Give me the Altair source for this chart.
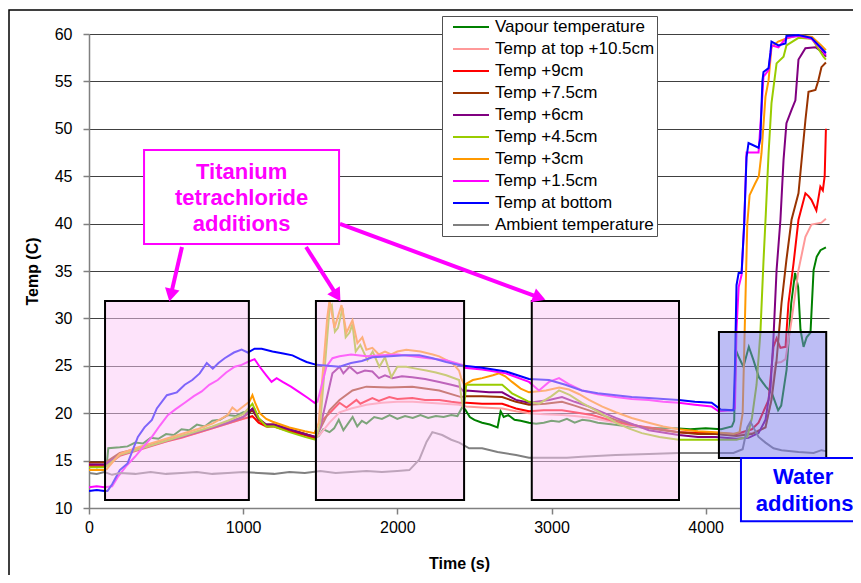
import math
import altair as alt
import pandas as pd

# ---------------- data ----------------
x_ticks = [0, 1000, 2000, 3000, 4000]
y_ticks = [10, 15, 20, 25, 30, 35, 40, 45, 50, 55, 60]

names = ["Vapour temperature", "Temp at top +10.5cm", "Temp +9cm", "Temp +7.5cm",
         "Temp +6cm", "Temp +4.5cm", "Temp  +3cm", "Temp +1.5cm",
         "Temp at bottom", "Ambient temperature"]
colors = ["#008000", "#FF9999", "#FF0000", "#993300", "#800080",
          "#99CC00", "#FF9900", "#FF00FF", "#0000FF", "#808080"]

vapour = [(0,14.5),(50,14.3),(100,14.4),(115,14.5),(125,16.3),(200,16.4),(250,16.5),(300,16.9),
          (350,16.8),(400,17.4),(450,17.3),(500,17.8),(550,17.7),(600,18.3),(650,18.2),(700,18.8),
          (750,18.6),(800,19.2),(850,19.3),(900,19.8),(950,19.7),(1000,20.1),(1040,20.2),(1070,20.5),
          (1100,19.4),(1130,19.0),(1160,18.6),(1200,18.7),(1300,18.2),(1400,17.8),(1470,17.4),
          (1490,17.6),(1520,18.3),(1560,18.0),(1590,18.4),(1620,19.3),(1650,18.2),(1680,18.9),
          (1710,19.6),(1740,18.6),(1770,19.2),(1800,18.9),(1850,19.6),(1900,19.4),(1950,19.8),
          (2000,19.4),(2050,19.7),(2100,19.5),(2150,19.8),(2200,19.5),(2250,19.7),(2300,19.6),
          (2350,19.8),(2390,19.7),(2420,20.6),(2440,20.4),(2470,19.6),(2500,19.3),(2550,19.0),
          (2600,18.8),(2650,18.5),(2670,20.2),(2690,19.6),(2720,19.8),(2760,19.3),(2800,19.2),
          (2854,19.0),(2900,18.9),(2950,19.0),(3000,19.2),(3050,19.1),(3100,19.4),(3150,19.0),
          (3200,19.3),(3250,19.2),(3300,19.0),(3400,18.8),(3500,18.6),(3600,18.5),(3700,18.4),
          (3800,18.4),(3900,18.3),(4000,18.4),(4100,18.3),(4170,18.6),(4185,19.2),(4195,26.7),
          (4215,25.9),(4245,24.9),(4280,27.0),(4310,25.6),(4345,23.8),(4390,22.8),(4430,22.1),
          (4470,20.3),(4490,20.8),(4525,24.6),(4555,31.6),(4580,34.8),(4600,33.3),(4615,28.8),
          (4635,27.0),(4655,28.0),(4680,28.5),(4700,35.1),(4720,36.5),(4745,37.2),(4780,37.5)]

top_10_5 = [(0,14.6),(100,14.5),(115,14.6),(200,15.6),(300,16.1),(400,16.6),(500,17.0),(600,17.5),
            (700,17.9),(800,18.4),(900,18.9),(1000,19.4),(1060,19.6),(1100,19.2),(1150,18.7),
            (1200,18.7),(1300,18.2),(1400,17.8),(1470,17.4),(1500,17.8),(1560,19.0),(1625,20.1),
            (1700,20.5),(1800,20.9),(1900,21.1),(2000,21.2),(2100,21.2),(2200,21.1),(2300,21.0),
            (2400,20.9),(2447,20.7),(2550,20.6),(2680,20.5),(2770,20.2),(2854,20.0),(2950,19.9),
            (3068,19.8),(3150,19.7),(3262,19.5),(3417,19.0),(3500,18.7),(3631,18.4),(3825,18.0),
            (3950,17.9),(4065,17.8),(4200,17.7),(4300,17.9),(4388,18.5),(4420,21.0),(4453,25.3),
            (4490,25.4),(4518,25.7),(4557,29.8),(4602,35.1),(4647,38.6),(4686,39.9),(4751,40.1),
            (4780,40.5)]

temp_9 = [(0,14.4),(100,14.4),(115,14.5),(200,15.5),(300,16.0),(400,16.5),(500,17.0),(600,17.4),
          (700,17.9),(800,18.4),(900,18.9),(1000,19.4),(1060,19.7),(1100,19.0),(1150,18.6),
          (1200,18.6),(1300,18.1),(1400,17.7),(1470,17.3),(1515,19.3),(1560,20.0),(1625,21.1),
          (1670,20.6),(1735,21.4),(1760,21.0),(1838,21.6),(1880,21.3),(1948,21.7),(2000,21.5),
          (2097,21.6),(2180,21.4),(2272,21.4),(2350,21.2),(2401,21.1),(2447,21.1),(2550,21.0),
          (2680,21.0),(2770,20.5),(2854,20.2),(2950,20.3),(3068,20.3),(3150,20.1),(3262,19.8),
          (3417,19.1),(3500,18.8),(3631,18.5),(3825,18.0),(3950,17.9),(4065,17.9),(4200,17.8),
          (4300,18.3),(4343,19.0),(4408,21.4),(4440,27.0),(4460,27.9),(4485,26.9),(4518,27.0),
          (4537,31.6),(4570,35.8),(4602,40.4),(4647,43.2),(4667,42.9),(4686,42.5),(4718,41.4),
          (4744,43.9),(4760,43.5),(4772,45.0),(4780,50.0)]

temp_7_5 = [(0,14.8),(100,14.8),(115,14.9),(200,15.8),(300,16.2),(400,16.7),(500,17.1),(600,17.6),
            (700,18.0),(800,18.5),(900,19.0),(1000,19.6),(1060,20.3),(1100,19.3),(1150,18.8),
            (1200,18.8),(1300,18.3),(1400,17.8),(1470,17.5),(1495,18.2),(1560,20.3),(1625,21.4),
            (1709,22.4),(1799,22.8),(1948,22.7),(2097,22.8),(2272,22.4),(2414,21.7),(2447,21.8),
            (2550,21.8),(2680,21.7),(2770,21.2),(2854,20.9),(2960,21.0),(3068,21.2),(3150,20.8),
            (3243,20.3),(3417,19.3),(3500,18.9),(3631,18.4),(3825,18.0),(3950,17.8),(4065,17.8),
            (4200,17.6),(4300,17.8),(4388,18.5),(4427,21.4),(4460,25.6),(4492,31.6),(4524,36.2),
            (4557,40.4),(4602,43.2),(4647,50.9),(4667,53.9),(4712,54.1),(4731,55.1),(4751,56.5),
            (4780,57.0)]

temp_6 = [(0,14.6),(100,14.6),(115,14.7),(200,15.6),(300,16.1),(400,16.6),(500,17.1),(600,17.5),
          (700,18.0),(800,18.5),(900,19.0),(1000,19.6),(1060,20.5),(1100,19.4),(1150,18.8),
          (1200,18.8),(1300,18.3),(1400,17.8),(1470,17.5),(1500,18.5),(1540,21.4),(1579,24.2),
          (1625,24.9),(1650,24.2),(1690,24.9),(1740,24.2),(1790,24.5),(1838,24.4),(1880,23.7),
          (1920,24.0),(1968,23.7),(2030,23.9),(2097,23.8),(2180,23.6),(2272,23.3),(2350,23.0),
          (2401,22.8),(2430,22.3),(2447,22.4),(2595,22.2),(2680,22.2),(2770,21.4),(2854,21.1),
          (2984,21.4),(3068,21.7),(3150,21.2),(3243,20.7),(3417,19.5),(3500,19.0),(3631,18.2),
          (3825,17.7),(3950,17.5),(4065,17.5),(4200,17.3),(4278,17.4),(4343,17.9),(4388,19.3),
          (4421,22.8),(4440,28.0),(4460,35.1),(4485,40.4),(4505,46.7),(4524,50.6),(4557,52.0),
          (4582,53.0),(4602,57.3),(4647,58.5),(4712,58.6),(4764,58.0),(4780,57.6)]

temp_4_5 = [(0,14.3),(100,14.3),(115,14.4),(200,15.6),(300,16.1),(400,16.6),(500,17.1),(600,17.6),
            (700,18.1),(800,18.6),(900,19.2),(1000,19.9),(1060,21.0),(1100,19.5),(1150,18.6),
            (1200,18.6),(1300,18.0),(1400,17.5),(1470,17.2),(1500,19.0),(1530,25.0),(1560,31.0),
            (1575,31.4),(1595,28.6),(1615,29.0),(1645,31.1),(1665,28.0),(1690,28.5),(1709,29.4),
            (1730,26.5),(1760,27.2),(1806,25.6),(1840,26.5),(1883,24.9),(1920,25.9),(1961,23.8),
            (2000,24.9),(2058,24.9),(2120,24.7),(2188,24.5),(2250,24.3),(2317,24.0),(2401,23.5),
            (2415,21.7),(2430,20.4),(2447,23.0),(2550,23.0),(2680,23.0),(2744,22.1),(2854,21.2),
            (2920,21.0),(3000,21.8),(3049,22.4),(3120,21.9),(3197,21.1),(3300,20.2),(3417,19.0),
            (3500,18.4),(3586,17.9),(3700,17.5),(3825,17.2),(3950,17.2),(4065,17.2),(4200,17.2),
            (4270,17.5),(4300,19.5),(4330,23.0),(4355,28.5),(4375,36.0),(4390,41.0),(4408,47.4),
            (4427,52.7),(4460,56.9),(4505,57.6),(4524,58.8),(4602,59.6),(4690,59.5),(4764,57.6),
            (4780,57.3)]

temp_3 = [(0,14.0),(100,14.0),(115,14.1),(200,15.7),(300,16.3),(400,16.8),(500,17.3),(600,17.8),
          (700,18.3),(800,18.9),(900,19.8),(930,20.6),(960,20.2),(1000,20.7),(1040,21.2),(1060,21.9),
          (1080,21.0),(1107,20.0),(1150,19.4),(1191,19.1),(1300,18.5),(1400,18.1),(1463,17.9),
          (1490,19.0),(1520,25.0),(1545,30.0),(1560,31.9),(1592,29.0),(1638,31.4),(1670,28.5),
          (1709,29.8),(1741,27.4),(1773,28.0),(1799,26.7),(1838,26.9),(1880,26.2),(1920,26.5),
          (1960,26.2),(2000,26.5),(2058,26.7),(2150,26.5),(2230,26.2),(2272,26.0),(2356,25.3),
          (2400,24.5),(2414,23.7),(2434,23.0),(2490,23.5),(2550,23.7),(2620,24.0),(2660,24.2),
          (2700,23.9),(2744,23.3),(2800,22.6),(2854,22.2),(2964,22.4),(3050,22.7),(3113,22.5),
          (3180,22.0),(3243,21.4),(3330,20.7),(3417,20.1),(3520,19.5),(3631,19.0),(3725,18.6),
          (3825,18.3),(3950,18.1),(4065,18.0),(4180,17.8),(4220,18.0),(4240,20.0),(4255,30.0),
          (4270,40.0),(4285,43.0),(4320,44.2),(4345,45.0),(4362,47.4),(4388,53.4),(4408,55.1),
          (4427,58.6),(4470,59.2),(4520,59.5),(4600,59.9),(4690,59.7),(4750,58.8),(4780,58.3)]

temp_1_5 = [(0,12.2),(50,12.3),(100,12.2),(150,12.3),(188,13.3),(240,14.4),(298,15.4),(350,16.4),
            (408,17.5),(460,18.7),(511,19.8),(560,20.4),(621,21.1),(680,21.8),(731,22.3),(780,23.0),
            (835,23.5),(890,24.3),(945,24.9),(990,25.1),(1029,25.4),(1074,25.7),(1107,24.9),
            (1150,24.0),(1184,23.3),(1217,23.7),(1256,23.3),(1310,22.8),(1366,22.2),(1420,21.6),
            (1463,21.1),(1482,21.2),(1540,24.9),(1579,25.8),(1625,26.0),(1700,26.2),(1800,26.0),
            (1900,26.1),(2000,26.2),(2100,26.0),(2200,25.8),(2317,25.6),(2421,25.1),(2434,24.8),
            (2550,24.6),(2705,24.2),(2854,23.3),(2919,22.4),(2984,23.3),(3049,23.7),(3120,23.0),
            (3197,22.4),(3300,22.0),(3417,21.7),(3520,21.5),(3631,21.4),(3725,21.2),(3825,21.1),
            (3930,20.9),(4039,20.7),(4084,20.2),(4168,20.3),(4190,20.5),(4200,28.8),(4214,33.3),
            (4233,34.6),(4250,40.0),(4265,47.5),(4343,47.5),(4362,52.0),(4375,55.5),(4408,56.2),
            (4427,58.8),(4472,58.6),(4524,59.6),(4602,59.8),(4686,59.5),(4751,58.4),(4780,57.8)]

bottom = [(0,11.8),(50,11.9),(100,11.8),(120,11.8),(150,12.5),(200,14.0),(250,14.7),(317,17.5),
          (360,18.5),(408,19.3),(440,20.5),(505,21.9),(570,22.2),(621,23.0),(670,23.5),(718,24.2),
          (764,25.3),(803,24.7),(840,25.3),(880,25.8),(940,26.4),(990,26.7),(1030,26.4),(1074,26.8),
          (1120,26.8),(1190,26.5),(1260,26.3),(1320,26.1),(1370,25.7),(1411,25.4),(1476,25.1),
          (1550,25.0),(1625,24.9),(1700,25.3),(1770,25.5),(1838,25.9),(1950,26.0),(2050,26.1),
          (2142,26.1),(2230,25.8),(2317,25.4),(2421,25.0),(2434,25.0),(2550,24.8),(2705,24.4),
          (2780,24.0),(2854,23.6),(2984,23.5),(3090,23.0),(3197,22.4),(3300,22.1),(3417,21.9),
          (3520,21.7),(3631,21.6),(3725,21.5),(3825,21.4),(3930,21.2),(4039,21.1),(4097,20.4),
          (4181,20.3),(4190,25.0),(4200,33.5),(4214,34.8),(4233,34.8),(4250,40.0),(4265,47.0),
          (4278,48.5),(4343,48.0),(4355,49.0),(4368,55.0),(4375,56.0),(4408,56.4),(4420,58.0),
          (4427,59.2),(4472,58.8),(4518,59.0),(4524,59.8),(4602,59.9),(4686,59.6),(4751,58.5),
          (4780,58.0)]

ambient = [(0,13.7),(50,13.6),(100,13.8),(150,13.5),(200,13.7),(300,13.6),(400,13.8),(500,13.6),
           (600,13.7),(700,13.8),(800,13.6),(900,13.7),(1000,13.8),(1100,13.7),(1200,13.6),
           (1300,13.8),(1400,13.7),(1500,13.9),(1600,13.7),(1700,13.8),(1800,13.9),(1900,13.8),
           (2000,13.9),(2078,14.0),(2142,15.1),(2190,17.0),(2227,18.0),(2291,17.7),(2350,17.2),
           (2401,16.9),(2466,16.3),(2550,16.3),(2650,15.9),(2770,15.6),(2854,15.3),(2984,15.3),
           (3100,15.3),(3197,15.4),(3417,15.6),(3631,15.7),(3825,15.8),(4065,15.8),(4180,15.8),
           (4240,16.2),(4270,18.5),(4290,19.1),(4343,17.5),(4388,16.9),(4440,16.3),(4492,16.1),
           (4602,15.9),(4700,15.8),(4751,16.1),(4780,16.0)]

series_points = [vapour, top_10_5, temp_9, temp_7_5, temp_6, temp_4_5, temp_3, temp_1_5, bottom, ambient]

# shaded periods (s) and their temperature extent
ticl4_start = [104, 1472, 2872]
ticl4_end = [1037, 2433, 3827]
ticl4_low, ticl4_high = 10.84, 31.84
water_start, water_end = 4086, 4782
water_low, water_high = 15.27, 28.57

# ---------------- build tables ----------------
rows = []
for name, pts in zip(names, series_points):
    for t, v in pts:
        rows.append({"series": name, "t": t, "v": v})
df = pd.DataFrame(rows)

W, H = 740, 474
XMAX = 4800
px_per_s = W / XMAX
px_per_deg = H / 50.0

FONT = "Liberation Sans"

x_enc = alt.X("t:Q", scale=alt.Scale(domain=[0, XMAX], nice=False, zero=False),
              axis=alt.Axis(values=x_ticks, title="Time (s)", grid=False, format="d",
                            labelFlush=False))
y_enc = alt.Y("v:Q", scale=alt.Scale(domain=[10, 60], nice=False, zero=False),
              axis=alt.Axis(values=y_ticks, title="Temp (C)", grid=True, format="d",
                            labelFlush=False))
color_enc = alt.Color(
    "series:N",
    scale=alt.Scale(domain=names, range=colors),
    legend=alt.Legend(
        orient="none", legendX=353, legendY=-18, direction="vertical", title=None,
        symbolType="stroke", symbolSize=1296, symbolStrokeWidth=2, symbolOffset=8,
        labelFontSize=17, labelFont=FONT, labelColor="black", labelOffset=5,
        rowPadding=4, clipHeight=18, padding=2,
        fillColor="white", strokeColor="#505050",
    ),
)

layers = []
# outer frame
frame = alt.Chart(pd.DataFrame({"a": [0]})).mark_rect(
    fillOpacity=0, stroke="black", strokeWidth=1.5, clip=False
).encode(x=alt.value(-80), x2=alt.value(900), y=alt.value(-24), y2=alt.value(700))
layers.append(frame)

base = alt.Chart(df)
for n in names:
    layers.append(
        base.transform_filter(alt.FieldEqualPredicate(field="series", equal=n))
        .mark_line(strokeWidth=2, clip=True)
        .encode(x=x_enc, y=y_enc, color=color_enc)
    )

ticl4_df = pd.DataFrame({"t0": ticl4_start, "t1": ticl4_end,
                         "lo": [ticl4_low] * 3, "hi": [ticl4_high] * 3})
ticl4_rect = alt.Chart(ticl4_df).mark_rect(
    fill="#FBC7F5", fillOpacity=0.5, stroke="black", strokeWidth=2, strokeOpacity=1
).encode(x=alt.X("t0:Q"), x2="t1:Q", y=alt.Y("lo:Q"), y2="hi:Q")
layers.append(ticl4_rect)

water_df = pd.DataFrame({"t0": [water_start], "t1": [water_end], "lo": [water_low], "hi": [water_high]})
water_rect = alt.Chart(water_df).mark_rect(
    fill="#7B7BEB", fillOpacity=0.5, stroke="black", strokeWidth=2, strokeOpacity=1
).encode(x=alt.X("t0:Q"), x2="t1:Q", y=alt.Y("lo:Q"), y2="hi:Q")
layers.append(water_rect)

# arrows (tail -> tip) from the TiCl4 label
arrow_tail_t = [603, 1408, 1628]
arrow_tail_v = [37.53, 37.53, 39.96]
arrow_tip_t = [525, 1622, 2945]
arrow_tip_v = [32.05, 32.05, 32.05]
arows = []
for t0, v0, t1, v1 in zip(arrow_tail_t, arrow_tail_v, arrow_tip_t, arrow_tip_v):
    dx = (t1 - t0) * px_per_s
    dy = -(v1 - v0) * px_per_deg
    L = math.hypot(dx, dy)
    ux, uy = dx / L, dy / L
    back = 6.0
    ct = t1 - ux * back / px_per_s
    cv = v1 + uy * back / px_per_deg
    ang = (math.degrees(math.atan2(dx, -dy)) + 360) % 360
    arows.append({"t0": t0, "v0": v0, "t1": ct, "v1": cv, "ang": ang})
arrow_df = pd.DataFrame(arows)
arrow_lines = alt.Chart(arrow_df).mark_rule(color="#FF00FF", strokeWidth=4, clip=False).encode(
    x=alt.X("t0:Q"), y=alt.Y("v0:Q"), x2="t1:Q", y2="v1:Q")
arrow_heads = alt.Chart(arrow_df).mark_point(
    shape="triangle", filled=True, color="#FF00FF", opacity=1, size=220, clip=False
).encode(x=alt.X("t1:Q"), y=alt.Y("v1:Q"), angle=alt.Angle("ang:Q", scale=None))
layers += [arrow_lines, arrow_heads]

# TiCl4 label box
label_box_df = pd.DataFrame({"t0": [357], "t1": [1622], "lo": [37.85], "hi": [47.76]})
label_box = alt.Chart(label_box_df).mark_rect(
    fill="white", stroke="#FF00FF", strokeWidth=2, clip=False
).encode(x=alt.X("t0:Q"), x2="t1:Q", y=alt.Y("lo:Q"), y2="hi:Q")
ticl4_text_df = pd.DataFrame({"t": [990, 990, 990], "v": [45.44, 42.70, 39.96],
                              "txt": ["Titanium", "tetrachloride", "additions"]})
ticl4_text = alt.Chart(ticl4_text_df).mark_text(
    font=FONT, fontSize=22, fontWeight="bold", color="#FF00FF", align="center", baseline="middle"
).encode(x=alt.X("t:Q"), y=alt.Y("v:Q"), text="txt:N")
layers += [label_box, ticl4_text]

# Water label box
water_label_df = pd.DataFrame({"t0": [4229], "t1": [5200], "lo": [8.6], "hi": [15.27]})
water_label = alt.Chart(water_label_df).mark_rect(
    fill="white", stroke="#0000FF", strokeWidth=2, clip=False
).encode(x=alt.X("t0:Q"), x2="t1:Q", y=alt.Y("lo:Q"), y2="hi:Q")
water_text_df = pd.DataFrame({"t": [4632, 4642], "v": [13.27, 10.42], "txt": ["Water", "additions"]})
water_text = alt.Chart(water_text_df).mark_text(
    font=FONT, fontSize=22, fontWeight="bold", color="#0000FF", align="center", baseline="middle",
    clip=False
).encode(x=alt.X("t:Q"), y=alt.Y("v:Q"), text="txt:N")
layers += [water_label, water_text]

chart = alt.layer(*layers).properties(
    width=W, height=H,
    autosize=alt.AutoSizeParams(type="none"),
    padding={"left": 81, "top": 26, "right": 24, "bottom": 67},
    background="white",
).configure_view(stroke=None).configure_axis(
    labelFont=FONT, labelFontSize=16, labelColor="black",
    titleFont=FONT, titleFontSize=16, titleFontWeight="bold", titleColor="black",
    domainColor="#808080", domainWidth=1.5, tickColor="#808080", tickSize=6, tickWidth=1.5,
    gridColor="#404040", gridWidth=1,
).configure_axisX(labelPadding=5, titlePadding=20).configure_axisY(labelPadding=11, titlePadding=14)

chart.save("out.html", embed_options={"renderer": "svg", "actions": False})
